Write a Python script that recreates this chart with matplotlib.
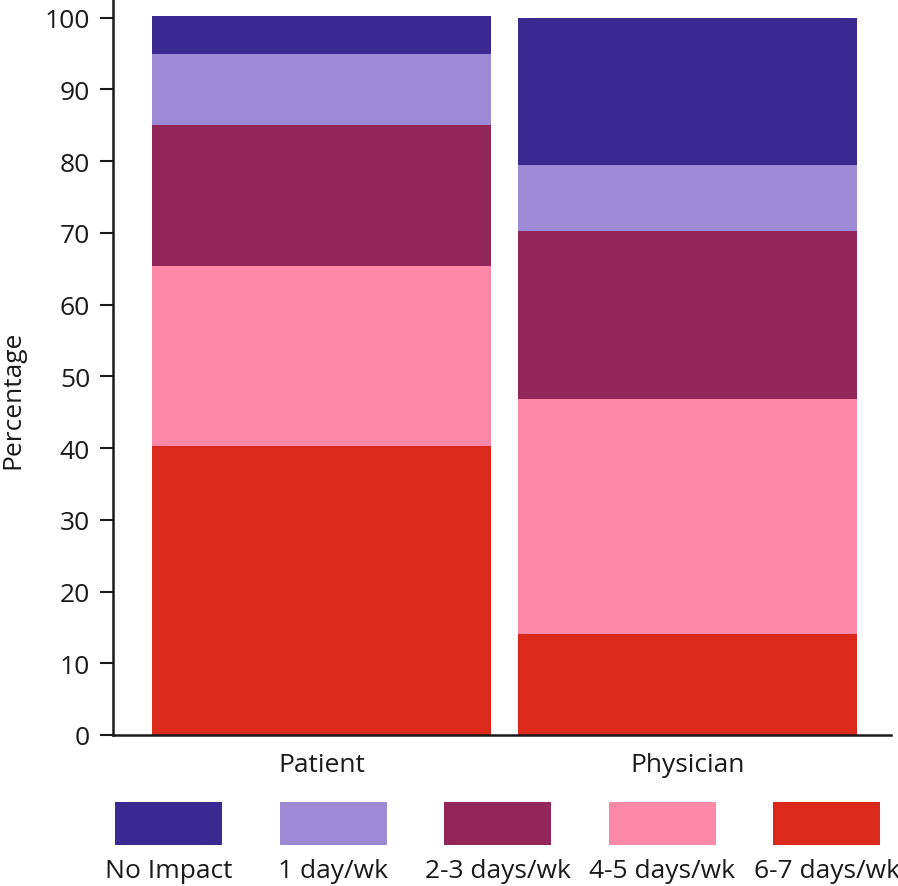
import matplotlib
matplotlib.use("Agg")
import matplotlib.pyplot as plt
from matplotlib.patches import Rectangle
import numpy as np

plt.rcParams['font.family'] = ['Open Sans', 'DejaVu Sans']

groups = ["Patient", "Physician"]
categories = ["6-7 days/wk", "4-5 days/wk", "2-3 days/wk", "1 day/wk", "No Impact"]
colors = ["#db2a1c", "#fd89a9", "#922659", "#9c8ad4", "#3b2992"]
# percentages, bottom to top
patient = [40.3, 25.1, 19.7, 9.9, 5.2]
physician = [14.1, 32.8, 23.4, 9.2, 20.5]

values = np.array([patient, physician])
ink = "#1a1a1a"

fig = plt.figure(figsize=(8.98, 8.87), dpi=100)
ax = fig.add_axes([113 / 898, 1 - 736 / 887, 778 / 898, 736 / 887])

x = np.arange(len(groups))
bottom = np.zeros(len(groups))
for i, cat in enumerate(categories):
    ax.bar(x, values[:, i], bottom=bottom, width=0.926, color=colors[i], linewidth=0)
    bottom += values[:, i]

ax.set_xlim(-0.570, 1.556)
ax.set_ylim(0, 102.6)
ax.set_yticks(np.arange(0, 101, 10))
ax.set_xticks(x)
ax.set_xticklabels(groups)
ax.set_ylabel("Percentage", fontsize=19, color=ink)
ax.yaxis.set_label_coords(-0.112, 0.457)
ax.tick_params(axis="y", labelsize=19, length=9.5, width=1.5, color=ink, labelcolor=ink, pad=7)
ax.tick_params(axis="x", labelsize=19, length=0, labelcolor=ink, pad=12)
for s in ["top", "right"]:
    ax.spines[s].set_visible(False)
for s in ["left", "bottom"]:
    ax.spines[s].set_linewidth(1.8)
    ax.spines[s].set_color(ink)

# legend: swatches in a row with labels underneath
lax = fig.add_axes([0, 0, 1, 1])
lax.set_xlim(0, 898)
lax.set_ylim(887, 0)
lax.axis("off")
order = list(range(len(categories)))[::-1]
for k, i in enumerate(order):
    x0 = 115 + k * 164.5
    lax.add_patch(Rectangle((x0, 803), 107, 43, facecolor=colors[i], edgecolor="none"))
    lax.text(x0 + 53.5, 872, categories[i], ha="center", va="center", fontsize=19, color=ink)

fig.savefig("out.png", dpi=100)
